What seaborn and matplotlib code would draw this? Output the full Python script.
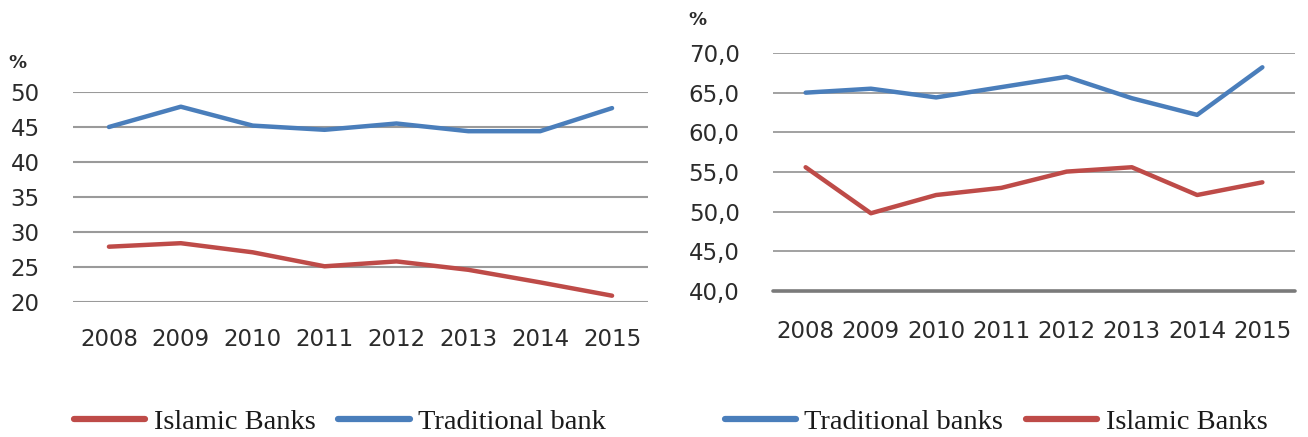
import matplotlib
matplotlib.use("Agg")
import matplotlib.pyplot as plt
import seaborn as sns
import pandas as pd
from matplotlib.lines import Line2D

years = ["2008", "2009", "2010", "2011", "2012", "2013", "2014", "2015"]

# Left chart
left_islamic = [27.9, 28.4, 27.1, 25.1, 25.8, 24.6, 22.8, 20.9]
left_traditional = [45.0, 47.9, 45.2, 44.6, 45.5, 44.4, 44.4, 47.7]
left_yticks = [20, 25, 30, 35, 40, 45, 50]
left_labels = ["Islamic Banks", "Traditional bank"]

# Right chart
right_traditional = [65.0, 65.5, 64.4, 65.7, 67.0, 64.3, 62.2, 68.2]
right_islamic = [55.6, 49.8, 52.1, 53.0, 55.05, 55.6, 52.1, 53.7]
right_yticks = [40, 45, 50, 55, 60, 65, 70]
right_labels = ["Traditional banks", "Islamic Banks"]

BLUE = "#4A7EBB"
RED = "#BE4B48"
TXT = "#2b2b2b"

sns.set_theme(style="white")
plt.rcParams["font.family"] = ["DejaVu Sans"]

fig = plt.figure(figsize=(13.08, 4.37), dpi=100)
axL = fig.add_axes([73/1308, 1-302/437, 575/1308, 210/437])
axR = fig.add_axes([773/1308, 1-291/437, 522/1308, 238/437])

dfL = pd.DataFrame({
    "year": years * 2,
    "value": left_islamic + left_traditional,
    "series": [left_labels[0]] * 8 + [left_labels[1]] * 8,
})
dfR = pd.DataFrame({
    "year": years * 2,
    "value": right_traditional + right_islamic,
    "series": [right_labels[0]] * 8 + [right_labels[1]] * 8,
})

sns.lineplot(data=dfL, x="year", y="value", hue="series", sort=False,
             palette={left_labels[0]: RED, left_labels[1]: BLUE},
             linewidth=3.2, ax=axL, legend=False, zorder=3)
sns.lineplot(data=dfR, x="year", y="value", hue="series", sort=False,
             palette={right_labels[0]: BLUE, right_labels[1]: RED},
             linewidth=3.2, ax=axR, legend=False, zorder=3)

for ax, yt, fmt in [(axL, left_yticks, "{:d}"), (axR, right_yticks, None)]:
    ax.set_xlim(-0.5, 7.5)
    ax.set_ylim(yt[0], yt[-1])
    ax.set_yticks(yt)
    if fmt:
        ax.set_yticklabels([fmt.format(v) for v in yt])
    else:
        ax.set_yticklabels([f"{v:.1f}".replace(".", ",") for v in yt])
    ax.set_xlabel("")
    ax.set_ylabel("")
    for s in ax.spines.values():
        s.set_visible(False)
    ax.grid(axis="y", color="#9a9a9a", linewidth=1.5)
    ax.grid(axis="x", visible=False)
    ax.set_axisbelow(True)
    ax.tick_params(axis="both", length=0, labelsize=16.5, labelcolor=TXT)
    ax.tick_params(axis="y", pad=24)
    ax.patch.set_alpha(0)

axL.tick_params(axis="x", pad=19)
axR.tick_params(axis="x", pad=21)
axR.grid(axis="y", color="#9a9a9a", linewidth=1.3)
axR.axhline(40, color="#7a7a7a", linewidth=2.6, zorder=2, clip_on=False)

fig.text(8/1308, 1-63/437, "%", fontsize=13, color=TXT, fontweight="bold", va="center", ha="left")
fig.text(688/1308, 1-20/437, "%", fontsize=13, color=TXT, fontweight="bold", va="center", ha="left")

serif = ["Liberation Serif", "DejaVu Serif"]
handlesL = [Line2D([], [], color=RED, lw=4.5), Line2D([], [], color=BLUE, lw=4.5)]
handlesR = [Line2D([], [], color=BLUE, lw=4.5), Line2D([], [], color=RED, lw=4.5)]
legL = fig.legend(handlesL, left_labels, loc="center", bbox_to_anchor=(340/1308, 1-422/437),
                  ncol=2, frameon=False, prop={"family": serif, "size": 20.5},
                  handlelength=2.5, handletextpad=0.3, columnspacing=0.8)
legR = fig.legend(handlesR, right_labels, loc="center", bbox_to_anchor=(996/1308, 1-422/437),
                  ncol=2, frameon=False, prop={"family": serif, "size": 20.5},
                  handlelength=2.5, handletextpad=0.3, columnspacing=0.8)
for leg in (legL, legR):
    for t in leg.get_texts():
        t.set_color("#1a1a1a")

fig.savefig("out.png", dpi=100, facecolor="white")
